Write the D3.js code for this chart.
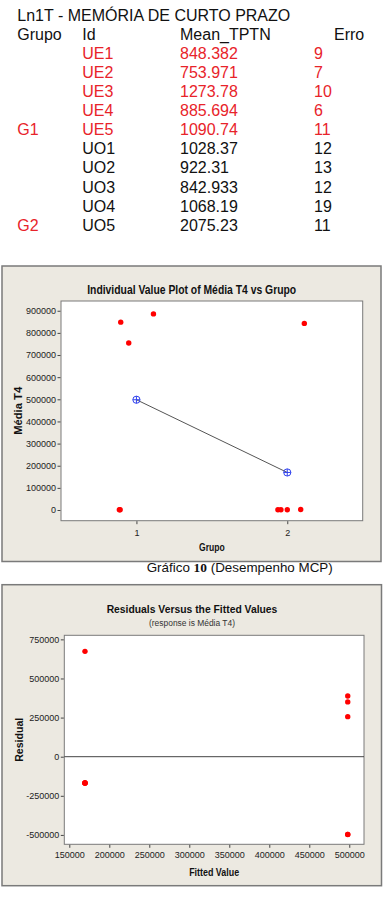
<!DOCTYPE html>
<html><head><meta charset="utf-8">
<script src="https://cdn.jsdelivr.net/npm/d3@7/dist/d3.min.js"></script>
<style>body{margin:0;background:#fff}svg{display:block}</style>
</head><body><svg id="c" width="386" height="897"></svg>
<script>
// ---------- table data ----------
const tableTitle = "Ln1T - MEMÓRIA DE CURTO PRAZO";
const headers = ["Grupo", "Id", "Mean_TPTN", "Erro"];
const grupoLabels = ["", "", "", "", "G1", "", "", "", "", "G2"];
const ids = ["UE1", "UE2", "UE3", "UE4", "UE5", "UO1", "UO2", "UO3", "UO4", "UO5"];
const meanTPTN = ["848.382", "753.971", "1273.78", "885.694", "1090.74", "1028.37", "922.31", "842.933", "1068.19", "2075.23"];
const erro = ["9", "7", "10", "6", "11", "12", "13", "12", "19", "11"];
const rowRed = [true, true, true, true, true, false, false, false, false, false];

// ---------- individual value plot data ----------
const groups = [1, 1, 1, 1, 1, 2, 2, 2, 2, 2];
const mediaT4 = [848382, 753971, 1273.78, 885694, 1090.74, 1028.37, 922.31, 842933, 1068.19, 2075.23];
const jitter = [-0.104, -0.051, -0.113, 0.113, -0.108, -0.062, -0.042, 0.113, 0.0, 0.089];
const groupTicks = [1, 2];
const groupMeans = [498082, 169605];
const mediaTicks = [0, 100000, 200000, 300000, 400000, 500000, 600000, 700000, 800000, 900000];

// ---------- residual plot data ----------
const fittedValues = [498082, 498082, 498082, 498082, 498082, 169605, 169605, 169605, 169605, 169605];
const residuals = [350300, 255889, -496808, 387612, -496991, -168577, -168683, 673328, -168537, -167530];
const fittedTicks = [150000, 200000, 250000, 300000, 350000, 400000, 450000, 500000];
const residualTicks = [-500000, -250000, 0, 250000, 500000, 750000];

const RED = "#e8232a";
const svg = d3.select("#c");
const SANS = "'Liberation Sans', Arial, Helvetica, sans-serif";

// ---------- table ----------
const tg = svg.append("g").style("font-family", SANS).style("font-size", "16px");
tg.append("text").attr("x", 17.3).attr("y", 20.5).attr("fill", "#111").text(tableTitle);
const colX = [17.3, 82.3, 180, 314];
const headX = [17.3, 82.3, 180, 334];
headers.forEach((h, i) => tg.append("text").attr("x", headX[i]).attr("y", 39.5).attr("fill", "#111").text(h));
const rowY = d3.scaleLinear().domain([0, 1]).range([58.8, 77.9]);
ids.forEach((id, i) => {
  const col = rowRed[i] ? RED : "#111";
  const y = rowY(i);
  if (grupoLabels[i]) tg.append("text").attr("x", colX[0]).attr("y", y).attr("fill", RED).text(grupoLabels[i]);
  tg.append("text").attr("x", colX[1]).attr("y", y).attr("fill", col).text(id);
  tg.append("text").attr("x", colX[2]).attr("y", y).attr("fill", col).text(meanTPTN[i]);
  tg.append("text").attr("x", colX[3]).attr("y", y).attr("fill", col).text(erro[i]);
});

const BG = "#ece9e1", FRAME = "#7a7a7a";

function styleAxis(g) {
  g.select(".domain").remove();
  g.selectAll(".tick line").attr("stroke", "#444");
  g.selectAll(".tick text").attr("fill", "#222").style("font-family", SANS).style("font-size", "9px");
}

// ---------- chart 1 ----------
{
  const L = 61, R = 362.7, T = 301, B = 520.7;
  const g = svg.append("g");
  g.append("rect").attr("x", 2).attr("y", 266).attr("width", 379).attr("height", 295.5)
    .attr("fill", BG).attr("stroke", FRAME).attr("stroke-width", 1.5);
  g.append("rect").attr("x", L).attr("y", T).attr("width", R - L).attr("height", B - T)
    .attr("fill", "#fff").attr("stroke", FRAME).attr("stroke-width", 1);
  const x = d3.scaleLinear().domain([0.5, 2.5]).range([L, R]);
  const y = d3.scaleLinear().domain([-48300, 944000]).range([B, T]);
  const ya = g.append("g").attr("transform", `translate(${L - 0.5},0)`)
    .call(d3.axisLeft(y).tickValues(mediaTicks).tickSize(3).tickPadding(1.5).tickFormat(d => String(d)));
  styleAxis(ya);
  const xa = g.append("g").attr("transform", `translate(0,${B + 0.5})`)
    .call(d3.axisBottom(x).tickValues(groupTicks).tickSize(3).tickPadding(5).tickFormat(d => String(d)));
  styleAxis(xa);
  g.append("text").attr("x", 191.7).attr("y", 294).attr("text-anchor", "middle")
    .style("font-family", SANS).style("font-weight", "bold").style("font-size", "12px")
    .attr("textLength", 209).attr("lengthAdjust", "spacingAndGlyphs").attr("fill", "#111")
    .text("Individual Value Plot of Média T4 vs Grupo");
  g.append("text").attr("x", (L + R) / 2).attr("y", 550.5).attr("text-anchor", "middle")
    .style("font-family", SANS).style("font-weight", "bold").style("font-size", "10.5px")
    .attr("textLength", 25.7).attr("lengthAdjust", "spacingAndGlyphs").attr("fill", "#111").text("Grupo");
  g.append("text").attr("transform", `translate(22,${(T + B) / 2}) rotate(-90)`).attr("text-anchor", "middle")
    .style("font-family", SANS).style("font-weight", "bold").style("font-size", "10.5px")
    .attr("textLength", 48).attr("lengthAdjust", "spacingAndGlyphs").attr("fill", "#111").text("Média T4");
  // mean connect line
  g.append("path").attr("d", d3.line().x((d, i) => x(groupTicks[i])).y(d => y(d))(groupMeans))
    .attr("fill", "none").attr("stroke", "#555").attr("stroke-width", 1);
  // points
  g.selectAll("circle.pt").data(mediaT4).join("circle").attr("class", "pt")
    .attr("cx", (d, i) => x(groups[i] + jitter[i])).attr("cy", d => y(d)).attr("r", 2.7).attr("fill", "#ff0000");
  // mean symbols
  groupMeans.forEach((m, i) => {
    const cx = x(groupTicks[i]), cy = y(m), r = 3.6;
    g.append("circle").attr("cx", cx).attr("cy", cy).attr("r", r).attr("fill", "none").attr("stroke", "#3344ee").attr("stroke-width", 1);
    g.append("path").attr("d", `M${cx - r},${cy}H${cx + r}M${cx},${cy - r}V${cy + r}`).attr("stroke", "#3344ee").attr("stroke-width", 1);
  });
  // caption
  const cap = svg.append("text").attr("x", 146.7).attr("y", 572).style("font-family", SANS).style("font-size", "13.4px").attr("fill", "#111");
  cap.append("tspan").text("Gráfico ");
  cap.append("tspan").style("font-family", "'Liberation Serif', 'Times New Roman', serif").style("font-weight", "bold").text("10");
  cap.append("tspan").text(" (Desempenho MCP)");
}

// ---------- chart 2 ----------
{
  const L = 64.3, R = 364, T = 635.3, B = 844.3;
  const g = svg.append("g");
  g.append("rect").attr("x", 2).attr("y", 584.7).attr("width", 379.5).attr("height", 301)
    .attr("fill", BG).attr("stroke", FRAME).attr("stroke-width", 1.5);
  g.append("rect").attr("x", L).attr("y", T).attr("width", R - L).attr("height", B - T)
    .attr("fill", "#fff").attr("stroke", FRAME).attr("stroke-width", 1);
  const x = d3.scaleLinear().domain([143750, 518400]).range([L, R]);
  const y = d3.scaleLinear().domain([-560000, 776000]).range([B, T]);
  const ya = g.append("g").attr("transform", `translate(${L - 0.5},0)`)
    .call(d3.axisLeft(y).tickValues(residualTicks).tickSize(3).tickPadding(1.5).tickFormat(d => String(d)));
  styleAxis(ya);
  const xa = g.append("g").attr("transform", `translate(0,${B + 0.5})`)
    .call(d3.axisBottom(x).tickValues(fittedTicks).tickSize(3).tickPadding(4).tickFormat(d => String(d)));
  styleAxis(xa);
  g.append("line").attr("x1", L).attr("x2", R).attr("y1", y(0)).attr("y2", y(0)).attr("stroke", "#444").attr("stroke-width", 1);
  g.append("text").attr("x", 192).attr("y", 613.3).attr("text-anchor", "middle")
    .style("font-family", SANS).style("font-weight", "bold").style("font-size", "11.6px")
    .attr("textLength", 170.7).attr("lengthAdjust", "spacingAndGlyphs").attr("fill", "#111")
    .text("Residuals Versus the Fitted Values");
  g.append("text").attr("x", 192).attr("y", 626.3).attr("text-anchor", "middle")
    .style("font-family", SANS).style("font-size", "8.5px")
    .attr("textLength", 86).attr("lengthAdjust", "spacingAndGlyphs").attr("fill", "#333")
    .text("(response is Média T4)");
  g.append("text").attr("x", (L + R) / 2).attr("y", 875.5).attr("text-anchor", "middle")
    .style("font-family", SANS).style("font-weight", "bold").style("font-size", "10.5px")
    .attr("textLength", 50).attr("lengthAdjust", "spacingAndGlyphs").attr("fill", "#111").text("Fitted Value");
  g.append("text").attr("transform", `translate(23,${(T + B) / 2}) rotate(-90)`).attr("text-anchor", "middle")
    .style("font-family", SANS).style("font-weight", "bold").style("font-size", "10.5px")
    .attr("textLength", 44).attr("lengthAdjust", "spacingAndGlyphs").attr("fill", "#111").text("Residual");
  g.selectAll("circle.pt").data(residuals).join("circle").attr("class", "pt")
    .attr("cx", (d, i) => x(fittedValues[i])).attr("cy", d => y(d)).attr("r", 2.7).attr("fill", "#ff0000");
}
</script></body></html>
